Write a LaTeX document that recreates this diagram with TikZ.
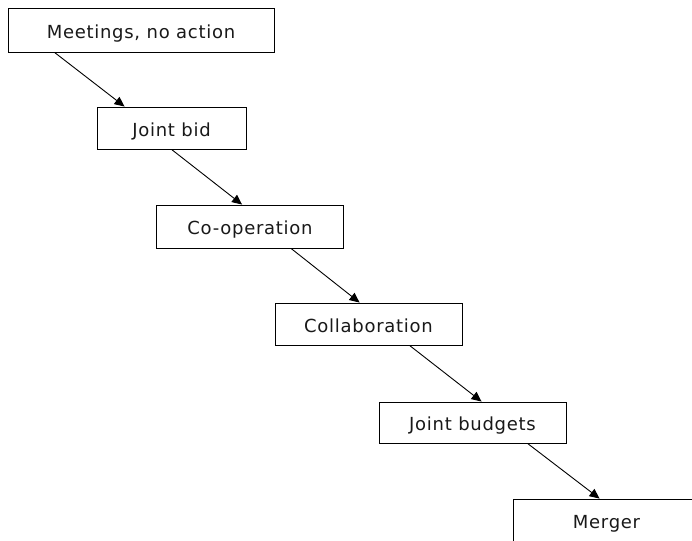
\documentclass[tikz,border=0pt]{standalone}
\usepackage{fontspec}
\setmainfont{DejaVu Sans}[LetterSpace=4]
\usetikzlibrary{arrows.meta}
\begin{document}
\begin{tikzpicture}[x=1pt,y=-1pt,
  stage/.style={draw=black, line width=0.9pt, fill=white, rectangle,
    inner sep=0pt, minimum height=42pt, minimum width=187pt,
    text height=18pt, text depth=1.4pt,
    font=\fontsize{18}{20}\selectfont, text=black!90},
  link/.style={draw=black, line width=0.9pt,
    -{Triangle[length=10pt,width=9pt]}}]
\useasboundingbox (0,0) rectangle (692,540);
\clip (0,0) rectangle (692,540);

\node[stage, minimum width=266pt, minimum height=44pt] (s1) at (141,30) {Meetings, no action};
\node[stage, minimum width=149pt] (s2) at (171.5,128) {Joint bid};
\node[stage, minimum height=43pt] (s3) at (250,226.5) {Co-operation};
\node[stage] (s4) at (368.5,324) {Collaboration};
\node[stage, minimum height=41pt] (s5) at (472.5,422.5) {Joint budgets};
\node[stage] (s6) at (606.5,520) {Merger};

\draw[link] ([xshift=47pt]s1.south west) -- ([xshift=28pt]s2.north west);
\draw[link] ([xshift=75pt]s2.south west) -- ([xshift=86pt]s3.north west);
\draw[link] ([xshift=135pt]s3.south west) -- ([xshift=85pt]s4.north west);
\draw[link] ([xshift=135pt]s4.south west) -- ([xshift=103pt]s5.north west);
\draw[link] ([xshift=149pt]s5.south west) -- ([xshift=87pt]s6.north west);
\end{tikzpicture}
\end{document}
